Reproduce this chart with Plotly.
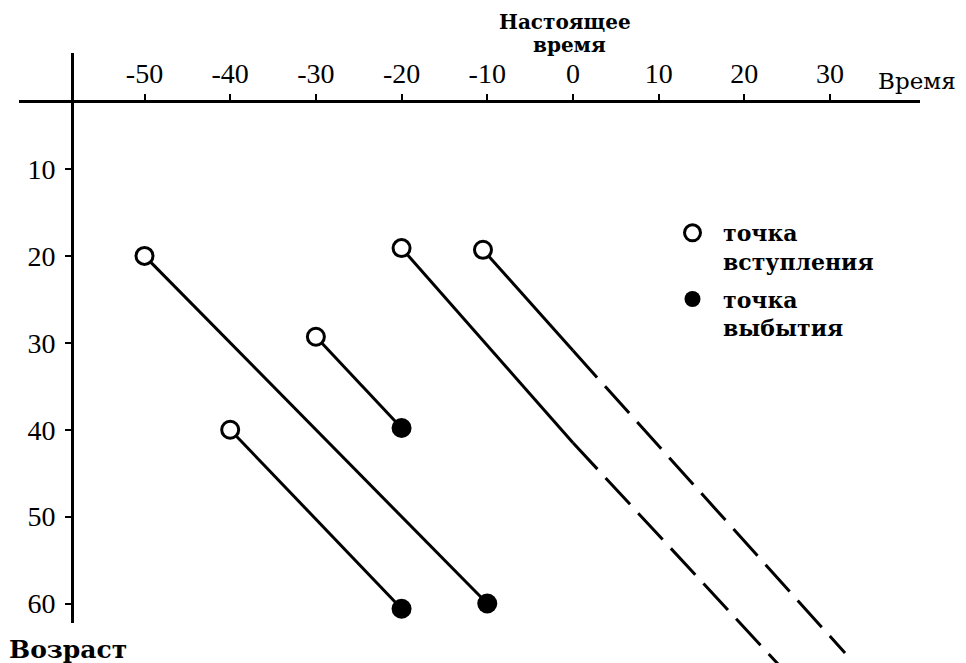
import plotly.graph_objects as go

# --- данные (диаграмма Лексиса) ---
# точки вступления (время, возраст)
entry_time = [-50, -30, -40, -20, -10.5]
entry_age = [20, 29.3, 40, 19.1, 19.3]

# точки выбытия для первых трёх линий жизни
exit_time = [-10, -20, -20]
exit_age = [60, 39.8, 60.6]

# линии, которые продолжаются после настоящего времени
present_time = [0, 0]
present_age = [41.5, 30.9]
end_time = [25, 31.75]
end_age = [68.1, 65.7]

x_ticks = [-50, -40, -30, -20, -10, 0, 10, 20, 30]
x_ticklabels = ["-50", "-40", "-30", "-20", "-10", "0", "10", "20", "30"]
y_ticks = [10, 20, 30, 40, 50, 60]

W, H = 966, 663
OFF = 8  # отступ body в браузере


# перевод пикселей окна в координаты осей
def x_px(px):
    return -50 + (px - 144.5) / 8.569


def age_px(py):
    return (py - 82.1) / 8.69


def fx(px):  # пиксель окна -> доля ширины
    return (px - OFF) / W


def fy(py):  # пиксель окна -> доля высоты
    return 1 - (py - OFF) / H


serif = "Liberation Serif"
bold_serif = "DejaVu Serif"
line_style = dict(color="black", width=3)

fig = go.Figure()

# сплошные участки линий жизни
n_exit = len(exit_time)
for i in range(len(entry_time)):
    if i < n_exit:
        xs = [entry_time[i], exit_time[i]]
        ys = [entry_age[i], exit_age[i]]
    else:
        j = i - n_exit
        xs = [entry_time[i], present_time[j]]
        ys = [entry_age[i], present_age[j]]
    fig.add_trace(go.Scatter(x=xs, y=ys, mode="lines", line=line_style,
                             showlegend=False, hoverinfo="skip"))

# пунктир после настоящего времени
for j in range(len(present_time)):
    fig.add_trace(go.Scatter(x=[present_time[j], end_time[j]], y=[present_age[j], end_age[j]],
                             mode="lines", line=dict(color="black", width=3, dash="36px,12px"),
                             showlegend=False, hoverinfo="skip"))

# точки вступления и выбытия (они же легенда)
fig.add_trace(go.Scatter(
    x=entry_time, y=entry_age, mode="markers", name="точка<br>вступления",
    legendgroup="a",
    marker=dict(symbol="circle", size=17, color="white", line=dict(color="black", width=3)),
))
fig.add_trace(go.Scatter(
    x=exit_time, y=exit_age, mode="markers", name="точка<br>выбытия",
    legendgroup="b",
    marker=dict(symbol="circle", size=20, color="black", line=dict(width=0)),
))

# невидимый след для видимых осей
fig.add_trace(go.Scatter(x=[None], y=[None], xaxis="x2", yaxis="y2",
                         showlegend=False, hoverinfo="skip"))

tickfont = dict(family=serif, size=28, color="black")
bfont = dict(family=bold_serif, size=20, color="black", weight="bold")

fig.update_layout(
    width=W, height=H,
    margin=dict(l=0, r=0, t=0, b=0),
    paper_bgcolor="white",
    plot_bgcolor="rgba(0,0,0,0)",
    xaxis=dict(domain=[0, 1], range=[x_px(OFF), x_px(OFF + W)], visible=False),
    yaxis=dict(domain=[0, 1], range=[age_px(OFF + H), age_px(OFF)], visible=False),
    xaxis2=dict(
        domain=[fx(19), fx(920)], range=[x_px(19), x_px(920)],
        anchor="free", position=fy(101), side="top",
        tickvals=x_ticks, ticktext=x_ticklabels, tickfont=tickfont,
        showline=True, linecolor="black", linewidth=3,
        ticks="outside", ticklen=6, tickwidth=2, tickcolor="black",
        showgrid=False, zeroline=False,
    ),
    yaxis2=dict(
        domain=[fy(623), fy(53)], range=[age_px(623), age_px(53)],
        anchor="free", position=fx(72), side="left",
        tickvals=y_ticks, tickfont=tickfont, ticklabelstandoff=4,
        showline=True, linecolor="black", linewidth=3,
        ticks="outside", ticklen=6, tickwidth=2, tickcolor="black",
        showgrid=False, zeroline=False,
    ),
    legend=dict(
        x=fx(662), y=fy(212), xanchor="left", yanchor="top",
        font=dict(family=bold_serif, size=22, color="black", weight="bold"),
        valign="top", tracegroupgap=6, bgcolor="rgba(0,0,0,0)",
        itemsizing="trace", itemwidth=51,
    ),
    annotations=[
        dict(text="Настоящее", x=fx(565), y=fy(22), xref="paper", yref="paper",
             xanchor="center", yanchor="middle", showarrow=False, font=bfont),
        dict(text="время", x=fx(569), y=fy(45), xref="paper", yref="paper",
             xanchor="center", yanchor="middle", showarrow=False, font=bfont),
        dict(text="Время", x=fx(917), y=fy(81), xref="paper", yref="paper",
             xanchor="center", yanchor="middle", showarrow=False,
             font=dict(family=bold_serif, size=23, color="black")),
        dict(text="Возраст", x=fx(68), y=fy(649), xref="paper", yref="paper",
             xanchor="center", yanchor="middle", showarrow=False,
             font=dict(family=bold_serif, size=25, color="black", weight="bold")),
    ],
)

fig.write_html("out.html")
